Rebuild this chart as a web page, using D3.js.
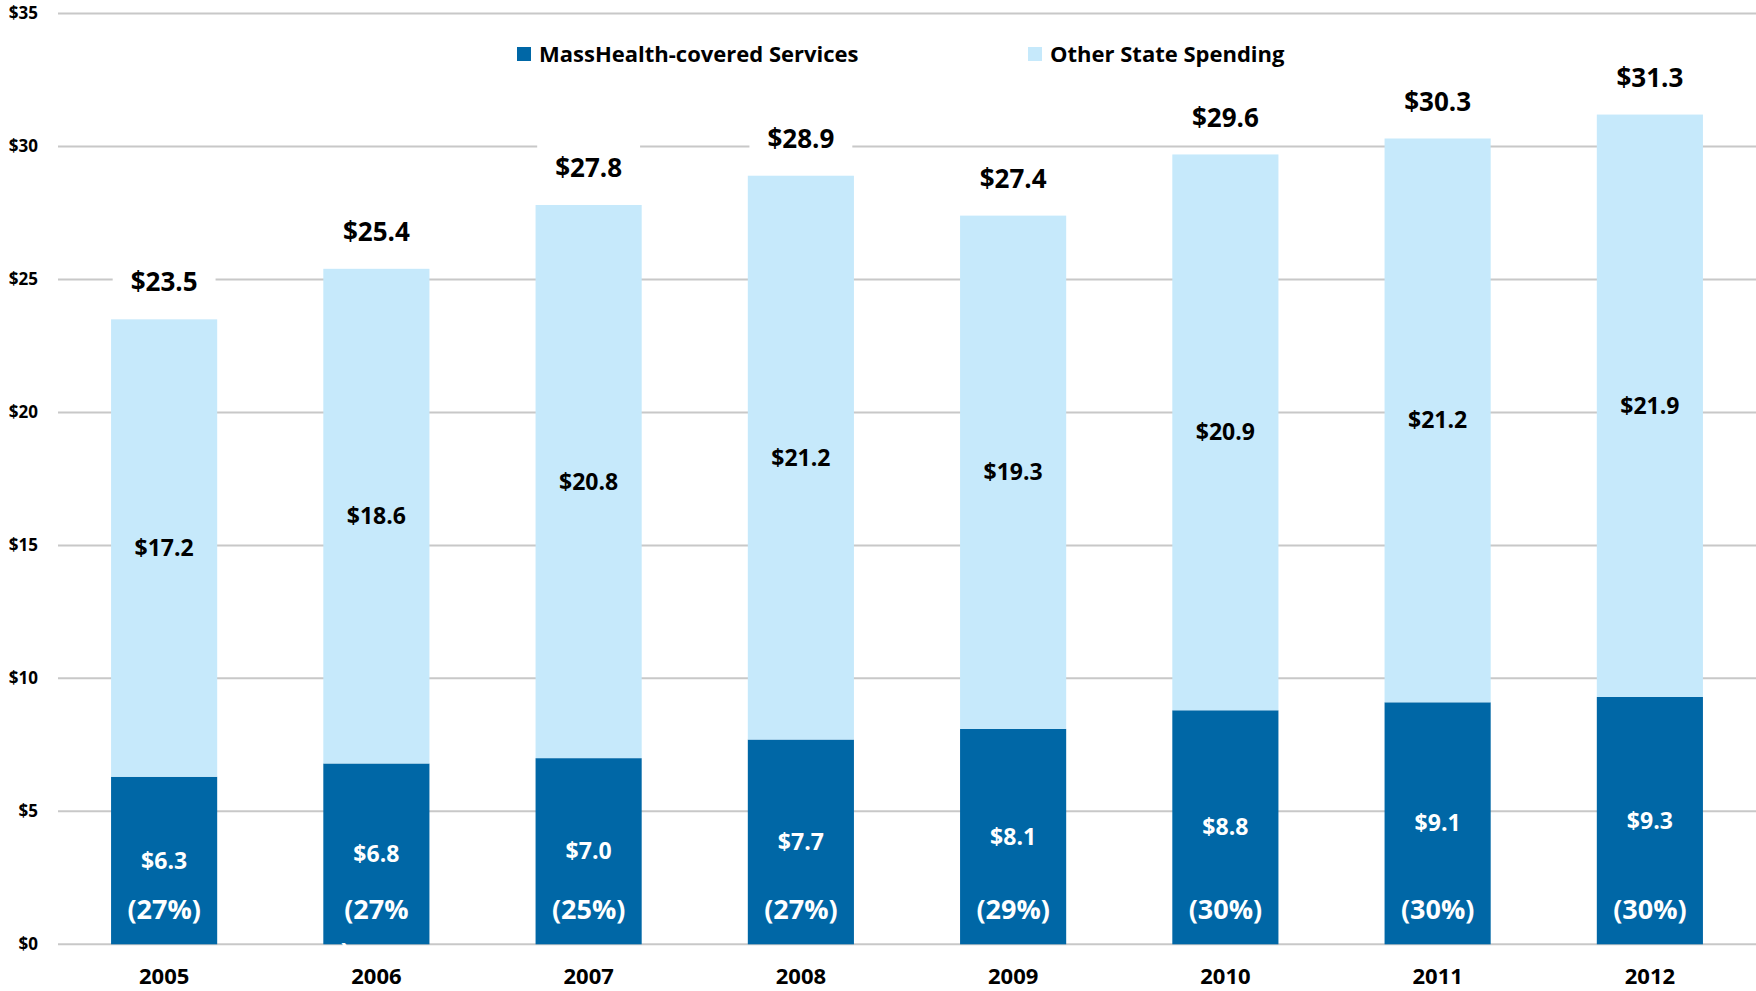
<!DOCTYPE html>
<html>
<head>
<meta charset="utf-8">
<script src="https://cdn.jsdelivr.net/npm/d3@7"></script>
<style>
  html, body { margin: 0; padding: 0; background: #fff; }
  svg { display: block; font-family: "Open Sans", sans-serif; font-weight: 700; }
</style>
</head>
<body>
<div id="chart"></div>
<script>
const years = ["2005", "2006", "2007", "2008", "2009", "2010", "2011", "2012"];
const massHealth = [6.3, 6.8, 7.0, 7.7, 8.1, 8.8, 9.1, 9.3];
const otherState = [17.2, 18.6, 20.8, 21.2, 19.3, 20.9, 21.2, 21.9];
const totals = [23.5, 25.4, 27.8, 28.9, 27.4, 29.6, 30.3, 31.3];
const shares = [27, 27, 25, 27, 29, 30, 30, 30];
const yTicks = [0, 5, 10, 15, 20, 25, 30, 35];
const seriesNames = ["MassHealth-covered Services", "Other State Spending"];

const width = 1756, height = 991;
const plotLeft = 58, plotTop = 13.5, plotBottom = 944.3;
const colors = {mass: "#0067a6", other: "#c6e9fb", grid: "#c8c8c8"};

const svg = d3.select("#chart")
    .append("svg")
    .attr("width", width)
    .attr("height", height);

const x = d3.scaleBand()
    .domain(years)
    .range([plotLeft, width])
    .paddingInner(0.5)
    .paddingOuter(0.25);

const y = d3.scaleLinear()
    .domain([0, 35])
    .range([plotBottom, plotTop]);

// gridlines
svg.append("g")
    .selectAll("line")
    .data(yTicks)
    .join("line")
    .attr("x1", plotLeft)
    .attr("x2", width)
    .attr("y1", d => y(d))
    .attr("y2", d => y(d))
    .attr("stroke", colors.grid)
    .attr("stroke-width", 2);

// y axis labels
const yAxis = svg.append("g")
    .attr("transform", `translate(${plotLeft},0)`)
    .call(d3.axisLeft(y).tickValues(yTicks).tickSize(0).tickPadding(20).tickFormat(d => "$" + d));
yAxis.select(".domain").remove();
yAxis.selectAll("text")
    .attr("fill", "#000")
    .style("font-family", "Open Sans")
    .style("font-weight", 700)
    .style("font-size", "17px");

// x axis labels
const xAxis = svg.append("g")
    .attr("transform", `translate(0,${plotBottom})`)
    .call(d3.axisBottom(x).tickSize(0).tickPadding(0));
xAxis.select(".domain").remove();
xAxis.selectAll("text")
    .attr("y", 32)
    .attr("dy", "0.35em")
    .attr("fill", "#000")
    .style("font-family", "Open Sans")
    .style("font-weight", 700)
    .style("font-size", "22px");

// stacked bars
const rows = years.map((yr, i) => ({year: yr, mass: massHealth[i], other: otherState[i]}));
const stacked = d3.stack().keys(["mass", "other"])(rows);

svg.append("g")
    .selectAll("g")
    .data(stacked)
    .join("g")
    .attr("fill", d => colors[d.key])
    .selectAll("rect")
    .data(d => d)
    .join("rect")
    .attr("x", d => x(d.data.year))
    .attr("width", x.bandwidth())
    .attr("y", d => y(d[1]))
    .attr("height", d => y(d[0]) - y(d[1]));

// segment value labels
stacked.forEach(s => {
    svg.append("g")
        .selectAll("text")
        .data(s)
        .join("text")
        .attr("x", d => x(d.data.year) + x.bandwidth() / 2)
        .attr("y", d => (y(d[0]) + y(d[1])) / 2)
        .attr("dy", "0.35em")
        .attr("text-anchor", "middle")
        .attr("fill", s.key === "mass" ? "#fff" : "#000")
        .style("font-size", "23px")
        .text(d => "$" + d.data[s.key].toFixed(1));
});

// share labels (2006 wraps in the original)
const shareText = svg.append("g")
    .selectAll("text")
    .data(shares)
    .join("text")
    .attr("x", (d, i) => x(years[i]) + x.bandwidth() / 2)
    .attr("y", y(1.3))
    .attr("dy", "0.35em")
    .attr("text-anchor", "middle")
    .attr("fill", "#fff")
    .style("font-size", "27px");
shareText.each(function(d, i) {
    const t = d3.select(this);
    if (years[i] === "2006") {
        t.append("tspan").text("(" + d + "%");
        t.append("tspan")
            .attr("x", x(years[i]) + x.bandwidth() / 2 - 31)
            .attr("dy", "1.6em")
            .text(")");
    } else {
        t.text("(" + d + "%)");
    }
});

// total labels with white box
const totalG = svg.append("g")
    .selectAll("g")
    .data(totals)
    .join("g")
    .attr("transform", (d, i) => `translate(${x(years[i]) + x.bandwidth() / 2},${y(d3.sum([massHealth[i], otherState[i]])) - 37})`);
totalG.append("rect")
    .attr("fill", "#fff");
totalG.append("text")
    .attr("dy", "0.35em")
    .attr("text-anchor", "middle")
    .attr("fill", "#000")
    .style("font-size", "26px")
    .text(d => "$" + d.toFixed(1));
totalG.each(function() {
    const g = d3.select(this);
    const w = g.select("text").node().getComputedTextLength() + 36;
    g.select("rect")
        .attr("x", -w / 2)
        .attr("y", -24)
        .attr("width", w)
        .attr("height", 48);
});

// legend
const legend = svg.append("g")
    .selectAll("g")
    .data(seriesNames)
    .join("g")
    .attr("transform", (d, i) => `translate(${i === 0 ? 517 : 1028},54)`);
legend.append("rect")
    .attr("y", -7)
    .attr("width", 14)
    .attr("height", 14)
    .attr("fill", (d, i) => i === 0 ? colors.mass : colors.other);
legend.append("text")
    .attr("x", 22)
    .attr("dy", "0.35em")
    .attr("fill", "#000")
    .style("font-size", "22px")
    .text(d => d);
</script>
</body>
</html>
